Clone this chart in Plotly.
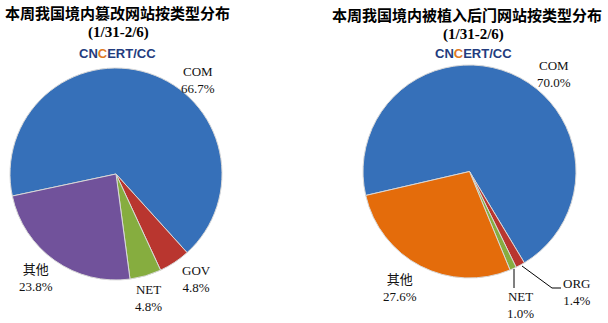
import plotly.graph_objects as go

W, H = 608, 323

# Left chart: tampered websites by type
left_title = "本周我国境内篡改网站按类型分布"
left_labels = ["COM", "GOV", "NET", "其他"]
left_values = [66.7, 4.8, 4.8, 23.8]
left_colors = ["#3670B9", "#B9362F", "#86AD3F", "#71529B"]

# Right chart: backdoored websites by type
right_title = "本周我国境内被植入后门网站按类型分布"
right_labels = ["COM", "ORG", "NET", "其他"]
right_values = [70.0, 1.4, 1.0, 27.6]
right_colors = ["#3670B9", "#B9362F", "#86AD3F", "#E46C0B"]

date_range = "(1/31-2/6)"
logo_text = "CNCERT/CC"


def px_dom(x0, x1, y0, y1):
    return dict(x=[x0 / W, x1 / W], y=[1 - y1 / H, 1 - y0 / H])


fig = go.Figure()
fig.add_trace(go.Pie(
    labels=left_labels, values=left_values, sort=False, direction="clockwise",
    rotation=258, textinfo="none", hoverinfo="label+percent",
    marker=dict(colors=left_colors, line=dict(color="#D8D8D8", width=1)),
    domain=px_dom(10, 222, 68, 280), showlegend=False,
))
fig.add_trace(go.Pie(
    labels=right_labels, values=right_values, sort=False, direction="clockwise",
    rotation=257, textinfo="none", hoverinfo="label+percent",
    marker=dict(colors=right_colors, line=dict(color="#D8D8D8", width=1)),
    domain=px_dom(362, 577, 65, 278), showlegend=False,
))

serif = "Liberation Serif, Times New Roman, Noto Sans CJK SC, serif"
cjk_bold = "Noto Sans CJK SC, sans-serif"


def ann(x, y, text, size=13, family=serif, color="#111111"):
    fig.add_annotation(x=x / W, y=1 - y / H, xref="paper", yref="paper",
                       text=text, showarrow=False, xanchor="center", yanchor="middle",
                       font=dict(size=size, family=family, color=color))


def lab(name, val):
    return f"{name}<br>{val:.1f}%"


# Titles
ann(117.5, 12.5, f"<b>{left_title}</b>", size=15, family=cjk_bold, color="#000")
ann(467, 15, f"<b>{right_title}</b>", size=15, family=cjk_bold, color="#000")
ann(118, 32.5, f"<b>{date_range}</b>", size=15, family=serif, color="#000")
ann(473, 34.5, f"<b>{date_range}</b>", size=15, family=serif, color="#000")

logo = (f"<b>{logo_text[:2]}<span style='color:#E07A1F'>{logo_text[2]}</span>"
        f"{logo_text[3:]}</b>")
logo_font = "Liberation Sans Narrow, Arial Narrow, Liberation Sans, sans-serif"
ann(117, 53.5, logo, size=13, family=logo_font, color="#233C7E")
ann(473, 53.5, logo, size=13, family=logo_font, color="#233C7E")

# Left slice labels
ann(198, 80, lab(left_labels[0], left_values[0]))
ann(196, 279, lab(left_labels[1], left_values[1]))
ann(148, 298, lab(left_labels[2], left_values[2]))
ann(36, 278, lab(left_labels[3], left_values[3]))

# Right slice labels
ann(554, 74, lab(right_labels[0], right_values[0]))
ann(576, 292, lab(right_labels[1], right_values[1]))
ann(520, 305, lab(right_labels[2], right_values[2]))
ann(400, 288, lab(right_labels[3], right_values[3]))

# Leader lines
def seg(x0, y0, x1, y1):
    fig.add_shape(type="line", xref="paper", yref="paper",
                  x0=x0 / W, y0=1 - y0 / H, x1=x1 / W, y1=1 - y1 / H,
                  line=dict(color="#000", width=1))

seg(514, 269, 514, 288)
seg(522, 266, 552, 288)
seg(552, 288, 561, 288)

fig.update_layout(width=W, height=H, margin=dict(l=0, r=0, t=0, b=0),
                  paper_bgcolor="white", plot_bgcolor="white")
fig.write_html("out.html")
